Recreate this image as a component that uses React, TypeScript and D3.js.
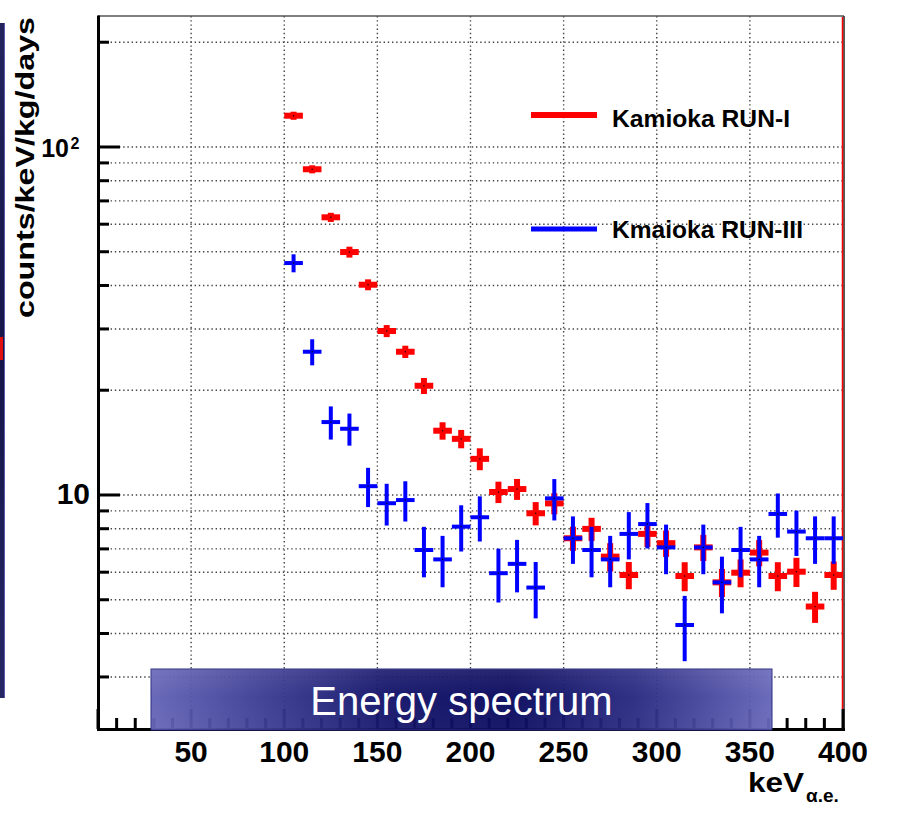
import React from "react";
import * as d3 from "d3";

const binCenters = [105, 115, 125, 135, 145, 155, 165, 175, 185, 195, 205, 215, 225, 235, 245, 255, 265, 275, 285, 295, 305, 315, 325, 335, 345, 355, 365, 375, 385, 395];
const runIValues = [123, 86.3, 62.8, 49.9, 40.2, 29.6, 25.8, 20.6, 15.3, 14.5, 12.7, 10.2, 10.4, 8.86, 9.46, 7.51, 7.99, 6.65, 5.89, 7.73, 7.27, 5.85, 7.07, 5.61, 5.98, 6.83, 5.85, 6.02, 4.78, 5.89];
const runIErrors = [3.3, 2.3, 1.9, 1.8, 1.45, 1.18, 1.05, 1.09, 0.88, 0.88, 0.92, 0.72, 0.72, 0.68, 0.66, 0.6, 0.61, 0.62, 0.53, 0.64, 0.63, 0.56, 0.61, 0.52, 0.55, 0.59, 0.56, 0.58, 0.49, 0.55];
const runIIIValues = [46.4, 25.8, 16.2, 15.5, 10.6, 9.47, 9.67, 6.95, 6.53, 8.11, 8.63, 5.96, 6.34, 5.42, 9.78, 7.51, 6.95, 6.53, 7.73, 8.25, 7.07, 4.23, 7.07, 5.61, 6.95, 6.53, 8.82, 7.85, 7.51, 7.51];
const runIIIErrors = [2.76, 2.22, 1.77, 1.64, 1.37, 1.3, 1.28, 1.15, 1.1, 1.23, 1.28, 1.05, 1.09, 1.0, 1.33, 1.17, 1.15, 1.1, 1.2, 1.23, 1.15, 0.9, 1.15, 1.04, 1.15, 1.1, 1.28, 1.17, 1.17, 1.17];
const binHalfWidth = 5;

const xMajorTicks = [0, 50, 100, 150, 200, 250, 300, 350, 400];
const xTickLabels = [50, 100, 150, 200, 250, 300, 350, 400];
const xMinorTicks = [10, 20, 30, 40, 60, 70, 80, 90, 110, 120, 130, 140, 160, 170, 180, 190, 210, 220, 230, 240, 260, 270, 280, 290, 310, 320, 330, 340, 360, 370, 380, 390];
const yMajorTicks = [10, 100];
const yMinorTicks = [3, 4, 5, 6, 7, 8, 9, 20, 30, 40, 50, 60, 70, 80, 90, 200];
const xGridValues = [50, 100, 150, 200, 250, 300, 350];
const legendLabels = ["Kamioka RUN-I", "Kmaioka RUN-III"];
const yTitle = "counts/keV/kg/days";
const overlayTitle = "Energy spectrum";

const FONT = "'Liberation Sans', Arial, Helvetica, sans-serif";

export default function App() {
  const left = 98, right = 843, top = 16, bottom = 729;
  const x = d3.scaleLinear().domain([0, 400]).range([left, right]);
  const y = d3.scaleLog().domain([2.126, 237.9]).range([bottom, top]);

  const series = [
    { vals: runIValues, errs: runIErrors, color: "#ff0000", w: 6 },
    { vals: runIIIValues, errs: runIIIErrors, color: "#0000ff", w: 4 },
  ];

  const bx0 = 151, bx1 = 772, by0 = 669, by1 = 730;

  return (
    <div style={{ position: "absolute", left: 0, top: 0 }}>
      <svg width={899} height={828} style={{ display: "block", background: "#fff" }} fontFamily={FONT}>
        <defs>
          <linearGradient id="espBoxH" gradientUnits="userSpaceOnUse" x1={bx0} x2={bx1} y1={0} y2={0}>
            <stop offset="0" stopColor="#6262b6" />
            <stop offset="0.18" stopColor="#3a3a92" />
            <stop offset="0.38" stopColor="#101068" />
            <stop offset="0.58" stopColor="#06065c" />
            <stop offset="0.78" stopColor="#262680" />
            <stop offset="1" stopColor="#6464b8" />
          </linearGradient>
          <linearGradient id="espBoxV" gradientUnits="userSpaceOnUse" x1={0} x2={0} y1={by0} y2={by1}>
            <stop offset="0" stopColor="#ffffff" stopOpacity="0.08" />
            <stop offset="0.45" stopColor="#ffffff" stopOpacity="0" />
            <stop offset="1" stopColor="#ffffff" stopOpacity="0.03" />
          </linearGradient>
          <linearGradient id="slideStrip" x1="0" x2="0" y1="0" y2="1">
            <stop offset="0" stopColor="#23235e" />
            <stop offset="0.5" stopColor="#15154a" />
            <stop offset="1" stopColor="#262666" />
          </linearGradient>
        </defs>

        {/* slide background strip at the left edge */}
        <rect x={0} y={23} width={5} height={675} fill="url(#slideStrip)" />
        <line x1={4.5} x2={4.5} y1={23} y2={698} stroke="#5a5aa8" strokeWidth={1} />
        <rect x={0} y={337} width={3} height={23} fill="#e01010" />

        {/* grid */}
        <g stroke="#444" strokeWidth={1.4} strokeDasharray="1.4 2.8">
          {xGridValues.map((v) => (
            <line key={"gx" + v} x1={x(v)} x2={x(v)} y1={top} y2={bottom} />
          ))}
          {[...yMinorTicks, ...yMajorTicks].map((v) => (
            <line key={"gy" + v} x1={left} x2={right} y1={y(v)} y2={y(v)} />
          ))}
        </g>

        {/* frame */}
        <line x1={left} x2={right + 1} y1={top} y2={top} stroke="#555" strokeWidth={1.5} />
        <line x1={right + 1} x2={right + 1} y1={top} y2={bottom} stroke="#222" strokeWidth={1.5} />
        <line x1={right - 0.5} x2={right - 0.5} y1={top + 1} y2={bottom - 20} stroke="#ff0000" strokeWidth={1.5} />

        {/* axes */}
        <line x1={left + 0.5} x2={left + 0.5} y1={top - 0.5} y2={bottom + 2} stroke="#000" strokeWidth={3} />
        <line x1={left - 1} x2={right + 2} y1={bottom + 0.5} y2={bottom + 0.5} stroke="#000" strokeWidth={3} />
        <g stroke="#000" strokeWidth={3}>
          {xMajorTicks.map((v) => (
            <line key={"xM" + v} x1={x(v)} x2={x(v)} y1={bottom} y2={bottom - 20} />
          ))}
          {xMinorTicks.map((v) => (
            <line key={"xm" + v} x1={x(v)} x2={x(v)} y1={bottom} y2={bottom - 11} />
          ))}
          {yMajorTicks.map((v) => (
            <line key={"yM" + v} x1={left} x2={left + 22} y1={y(v)} y2={y(v)} />
          ))}
          {yMinorTicks.map((v) => (
            <line key={"ym" + v} x1={left} x2={left + 11} y1={y(v)} y2={y(v)} />
          ))}
        </g>

        {/* x tick labels */}
        {xTickLabels.map((v) => (
          <text key={"xl" + v} x={x(v)} y={762} textAnchor="middle" fontSize={30} fontWeight="bold" fill="#000">
            {v}
          </text>
        ))}
        {/* y tick labels */}
        <text x={90} y={y(10) + 9} textAnchor="end" fontSize={30} fontWeight="bold" fill="#000">10</text>
        <text x={69} y={y(100) + 10} textAnchor="end" fontSize={25} fontWeight="bold" fill="#000">10</text>
        <text x={70.5} y={y(100) + 2} fontSize={16} fontWeight="bold" fill="#000">2</text>

        {/* axis titles */}
        <text
          transform="translate(34,318) rotate(-90)"
          fontSize={26}
          fontWeight="bold"
          fill="#000"
          textLength={301}
          lengthAdjust="spacingAndGlyphs"
        >
          {yTitle}
        </text>
        <text x={748} y={792} fontSize={28} fontWeight="bold" fill="#000" textLength={56} lengthAdjust="spacingAndGlyphs">keV</text>
        <text x={806} y={802} fontSize={19} fontWeight="bold" fill="#000">α.e.</text>

        {/* data */}
        {series.map((s, si) => (
          <g key={"s" + si} stroke={s.color} strokeWidth={s.w}>
            {binCenters.map((c, i) => {
              const v = s.vals[i];
              const e = s.errs[i];
              const cx = x(c);
              const cy = y(v);
              return (
                <g key={i}>
                  <line x1={x(c - binHalfWidth)} x2={x(c + binHalfWidth)} y1={cy} y2={cy} />
                  <line x1={cx} x2={cx} y1={y(v + e)} y2={y(v - e)} />
                  <rect x={cx - 0.6} y={cy - 0.6} width={1.2} height={1.2} fill="#000" stroke="none" />
                </g>
              );
            })}
          </g>
        ))}

        {/* legend */}
        <line x1={531} x2={597} y1={115} y2={115} stroke="#ff0000" strokeWidth={6} />
        <text x={612} y={127} fontSize={24.5} fontWeight="bold" fill="#000" textLength={178} lengthAdjust="spacingAndGlyphs">{legendLabels[0]}</text>
        <line x1={531} x2={597} y1={229} y2={229} stroke="#0000ff" strokeWidth={5} />
        <text x={612} y={238} fontSize={24.5} fontWeight="bold" fill="#000" textLength={191} lengthAdjust="spacingAndGlyphs">{legendLabels[1]}</text>

        {/* overlay box */}
        <rect x={bx0} y={by0} width={bx1 - bx0} height={by1 - by0} fill="url(#espBoxH)" fillOpacity={0.95} stroke="#2a2a80" strokeWidth={1} />
        <rect x={bx0} y={by0} width={bx1 - bx0} height={by1 - by0} fill="url(#espBoxV)" />
        <text x={461.5} y={715} textAnchor="middle" fontSize={40} fill="#ffffff">{overlayTitle}</text>
      </svg>
    </div>
  );
}
